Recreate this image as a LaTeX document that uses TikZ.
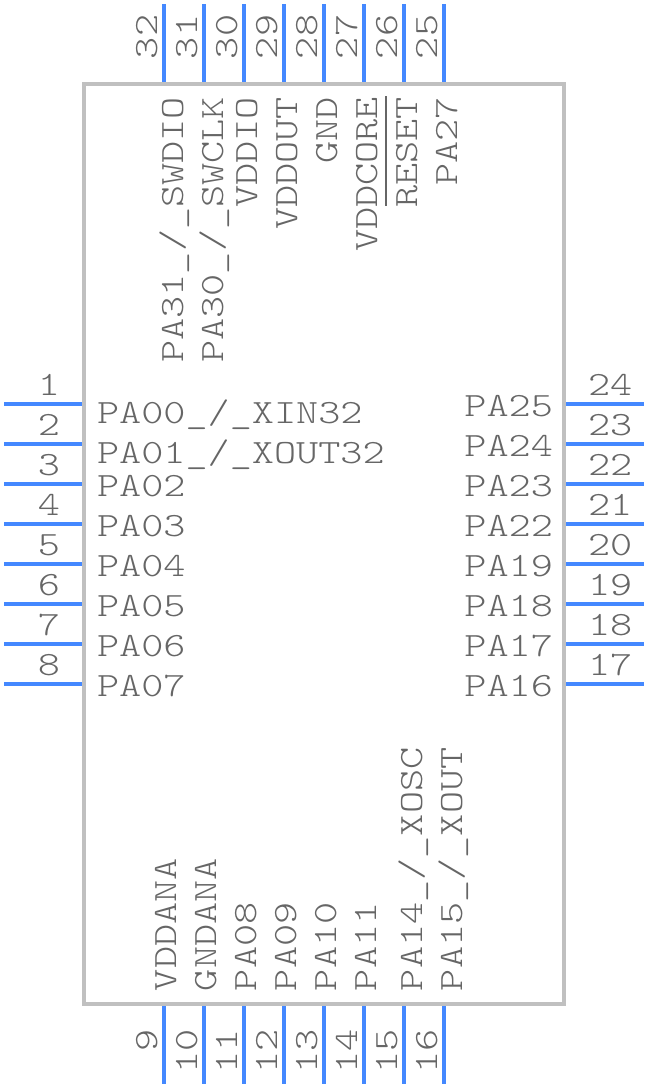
\documentclass[tikz,border=0pt]{standalone}
\usepackage{fontspec}
\setmonofont[FakeStretch=1.24]{Latin Modern Mono Light}
\definecolor{pinblue}{HTML}{4488FF}
\definecolor{bodygray}{HTML}{C0C0C0}
\definecolor{textgray}{HTML}{666666}
\tikzset{
  pin/.style={draw=pinblue,line width=4pt},
  lbl/.style={inner sep=0pt,outer sep=0pt,text=textgray,font=\ttfamily\fontsize{34}{34}\selectfont},
}
\begin{document}
\begin{tikzpicture}[x=1pt,y=-1pt]
\useasboundingbox (0,0) rectangle (648,1088);
\draw[draw=bodygray,line width=4pt] (84,84) rectangle (564,1004);
% pins
\foreach \n/\y in {1/404,2/444,3/484,4/524,5/564,6/604,7/644,8/684}{
  \draw[pin] (4,\y) -- (82,\y);
  \node[lbl,anchor=base east] (n\n) at (60,\y-9) {\n};
}
\foreach \n/\y in {24/404,23/444,22/484,21/524,20/564,19/604,18/644,17/684}{
  \draw[pin] (566,\y) -- (644,\y);
  \node[lbl,anchor=base west] (n\n) at (588,\y-9) {\n};
}
\foreach \n/\x in {32/164,31/204,30/244,29/284,28/324,27/364,26/404,25/444}{
  \draw[pin] (\x,4) -- (\x,82);
  \node[lbl,rotate=90,anchor=base west] (n\n) at (\x-7,59) {\n};
}
\foreach \n/\x in {9/164,10/204,11/244,12/284,13/324,14/364,15/404,16/444}{
  \draw[pin] (\x,1006) -- (\x,1084);
  \node[lbl,rotate=90,anchor=base east] (n\n) at (\x-7,1029) {\n};
}
% left labels
\foreach \t/\y in {{PA00\_/\_XIN32}/423,{PA01\_/\_XOUT32}/463,PA02/496,PA03/536,PA04/576,PA05/616,PA06/656,PA07/696}{
  \node[lbl,anchor=base west] at (97,\y) {\t};
}
% right labels
\foreach \t/\y in {PA25/416,PA24/456,PA23/496,PA22/536,PA19/576,PA18/616,PA17/656,PA16/696}{
  \node[lbl,anchor=base east] at (553,\y) {\t};
}
% top labels
\foreach \t/\x in {{PA31\_/\_SWDIO}/183,{PA30\_/\_SWCLK}/223,VDDIO/257,VDDOUT/297,GND/337,VDDCORE/377,RESET/417,PA27/457}{
  \node[lbl,rotate=90,anchor=base east] at (\x,97) {\t};
}
\draw[draw=textgray,line width=2pt] (386,96) -- (386,206);
% bottom labels
\foreach \t/\x in {VDDANA/176,GNDANA/216,PA08/256,PA09/296,PA10/336,PA11/376,{PA14\_/\_XOSC}/422,{PA15\_/\_XOUT}/462}{
  \node[lbl,rotate=90,anchor=base west] at (\x,991) {\t};
}
\end{tikzpicture}
\end{document}
